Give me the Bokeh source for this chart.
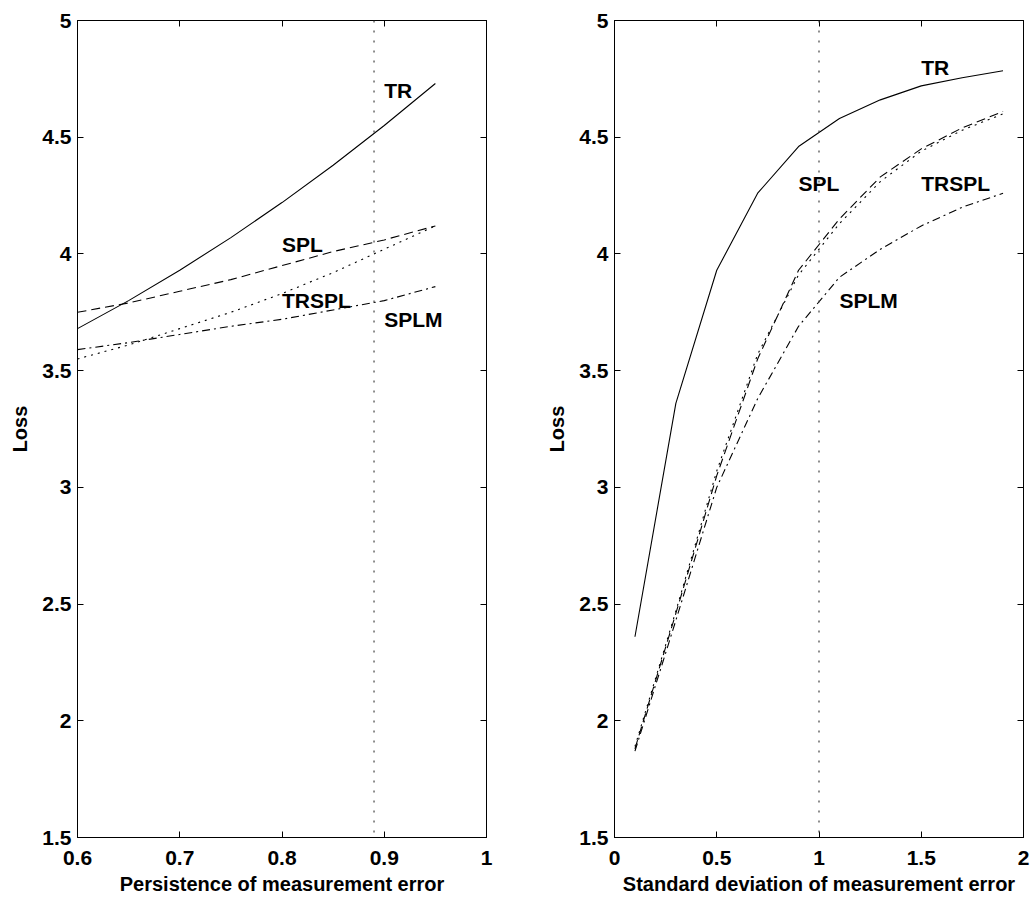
from bokeh.plotting import figure
from bokeh.layouts import row
from bokeh.models import LinearAxis, FixedTicker, Span
from bokeh.core.properties import value
from bokeh.embed import file_html
from bokeh.resources import INLINE

# ---------------- data: left panel (persistence) ----------------
persistence = [0.60, 0.65, 0.70, 0.75, 0.80, 0.85, 0.90, 0.95]
left_TR    = [3.68, 3.80, 3.93, 4.07, 4.22, 4.38, 4.55, 4.73]
left_SPL   = [3.75, 3.79, 3.84, 3.89, 3.95, 4.01, 4.06, 4.12]
left_TRSPL = [3.55, 3.61, 3.68, 3.75, 3.83, 3.92, 4.02, 4.12]
left_SPLM  = [3.59, 3.62, 3.655, 3.69, 3.72, 3.76, 3.80, 3.86]
left_vline = 0.89

# ---------------- data: right panel (std. deviation) ----------------
std_dev     = [0.1, 0.3, 0.5, 0.7, 0.9, 1.1, 1.3, 1.5, 1.7, 1.9]
right_TR    = [2.36, 3.36, 3.93, 4.26, 4.46, 4.58, 4.66, 4.72, 4.755, 4.785]
right_SPL   = [1.88, 2.46, 3.05, 3.55, 3.93, 4.15, 4.33, 4.45, 4.54, 4.61]
right_TRSPL = [1.89, 2.47, 3.07, 3.57, 3.91, 4.13, 4.31, 4.44, 4.53, 4.60]
right_SPLM  = [1.87, 2.43, 3.00, 3.38, 3.69, 3.90, 4.02, 4.12, 4.20, 4.26]
right_vline = 1.0

# ---------------- ticks ----------------
y_ticks = [1.5, 2, 2.5, 3, 3.5, 4, 4.5, 5]
y_tick_labels = ["1.5", "2", "2.5", "3", "3.5", "4", "4.5", "5"]
left_x_ticks = [0.6, 0.7, 0.8, 0.9, 1.0]
left_x_tick_labels = ["0.6", "0.7", "0.8", "0.9", "1"]
right_x_ticks = [0, 0.5, 1, 1.5, 2]
right_x_tick_labels = ["0", "0.5", "1", "1.5", "2"]

# ---------------- curve annotations ----------------
left_label_text = ["TR", "SPL", "TRSPL", "SPLM"]
left_label_x = [0.90, 0.80, 0.80, 0.90]
left_label_y = [4.70, 4.04, 3.80, 3.72]
right_label_text = ["TR", "SPL", "TRSPL", "SPLM"]
right_label_x = [1.50, 0.90, 1.50, 1.10]
right_label_y = [4.80, 4.30, 4.30, 3.80]

FONT = "Liberation Sans"

def style_axis(ax, ticks, labels, show_labels=True, standoff=10):
    ax.ticker = FixedTicker(ticks=ticks)
    ax.major_label_overrides = {t: l for t, l in zip(ticks, labels)}
    ax.major_tick_in = 6
    ax.major_tick_out = 0
    ax.minor_tick_line_color = None
    ax.axis_line_color = "black"
    ax.major_tick_line_color = "black"
    ax.major_label_text_font = FONT
    ax.major_label_text_font_style = "bold"
    ax.major_label_text_font_size = "21px"
    ax.major_label_text_color = "black" if show_labels else None
    ax.major_label_standoff = standoff
    ax.axis_label_text_font = FONT
    ax.axis_label_text_font_style = "bold"
    ax.axis_label_text_font_size = "20px"
    ax.axis_label_text_color = "black"


def make_panel(xs, series, xr, x_ticks, x_labels, vline, xlabel,
               lab_x, lab_y, lab_t, width, left_border, right_border):
    p = figure(width=width, height=899, x_range=xr, y_range=(1.5, 5),
               output_backend="svg", toolbar_location=None,
               min_border_left=left_border, min_border_right=right_border,
               min_border_top=20, min_border_bottom=62)
    p.xgrid.visible = False
    p.ygrid.visible = False
    p.outline_line_color = "black"
    p.outline_line_width = 1
    p.background_fill_color = "white"
    p.border_fill_color = "white"

    style_axis(p.xaxis[0], x_ticks, x_labels, True, 13)
    p.xaxis[0].axis_label = xlabel
    p.xaxis[0].axis_label_standoff = 5
    style_axis(p.yaxis[0], y_ticks, y_tick_labels, True, 6)
    p.yaxis[0].axis_label = "Loss"
    p.yaxis[0].axis_label_standoff = 8

    top = LinearAxis()
    style_axis(top, x_ticks, x_labels, False, 0)
    top.major_label_text_font_size = "0px"
    p.add_layout(top, "above")
    right = LinearAxis()
    style_axis(right, y_ticks, y_tick_labels, False, 0)
    right.major_label_text_font_size = "0px"
    p.add_layout(right, "right")

    tr, spl, trspl, splm = series
    p.line(xs, tr, line_color="black", line_width=1.1)
    p.line(xs, spl, line_color="black", line_width=1.1, line_dash="9 5")
    p.line(xs, trspl, line_color="black", line_width=1.1, line_dash="2 5")
    p.line(xs, splm, line_color="black", line_width=1.1, line_dash="8 4 2 4")

    p.add_layout(Span(location=vline, dimension="height", line_color="#444444",
                      line_width=1.2, line_dash="2 8"))

    p.text(x=lab_x, y=lab_y, text=lab_t, text_font=value(FONT),
           text_font_style="bold", text_font_size="21px",
           text_align="left", text_baseline="middle", text_color="black")
    return p


p1 = make_panel(persistence, (left_TR, left_SPL, left_TRSPL, left_SPLM),
                (0.6, 1.0), left_x_ticks, left_x_tick_labels, left_vline,
                "Persistence of measurement error",
                left_label_x, left_label_y, left_label_text,
                516, 77, 30)
p2 = make_panel(std_dev, (right_TR, right_SPL, right_TRSPL, right_SPLM),
                (0, 2), right_x_ticks, right_x_tick_labels, right_vline,
                "Standard deviation of measurement error",
                right_label_x, right_label_y, right_label_text,
                516, 98, 9)

layout = row(p1, p2)
open("out.html", "w").write(file_html(layout, INLINE))
